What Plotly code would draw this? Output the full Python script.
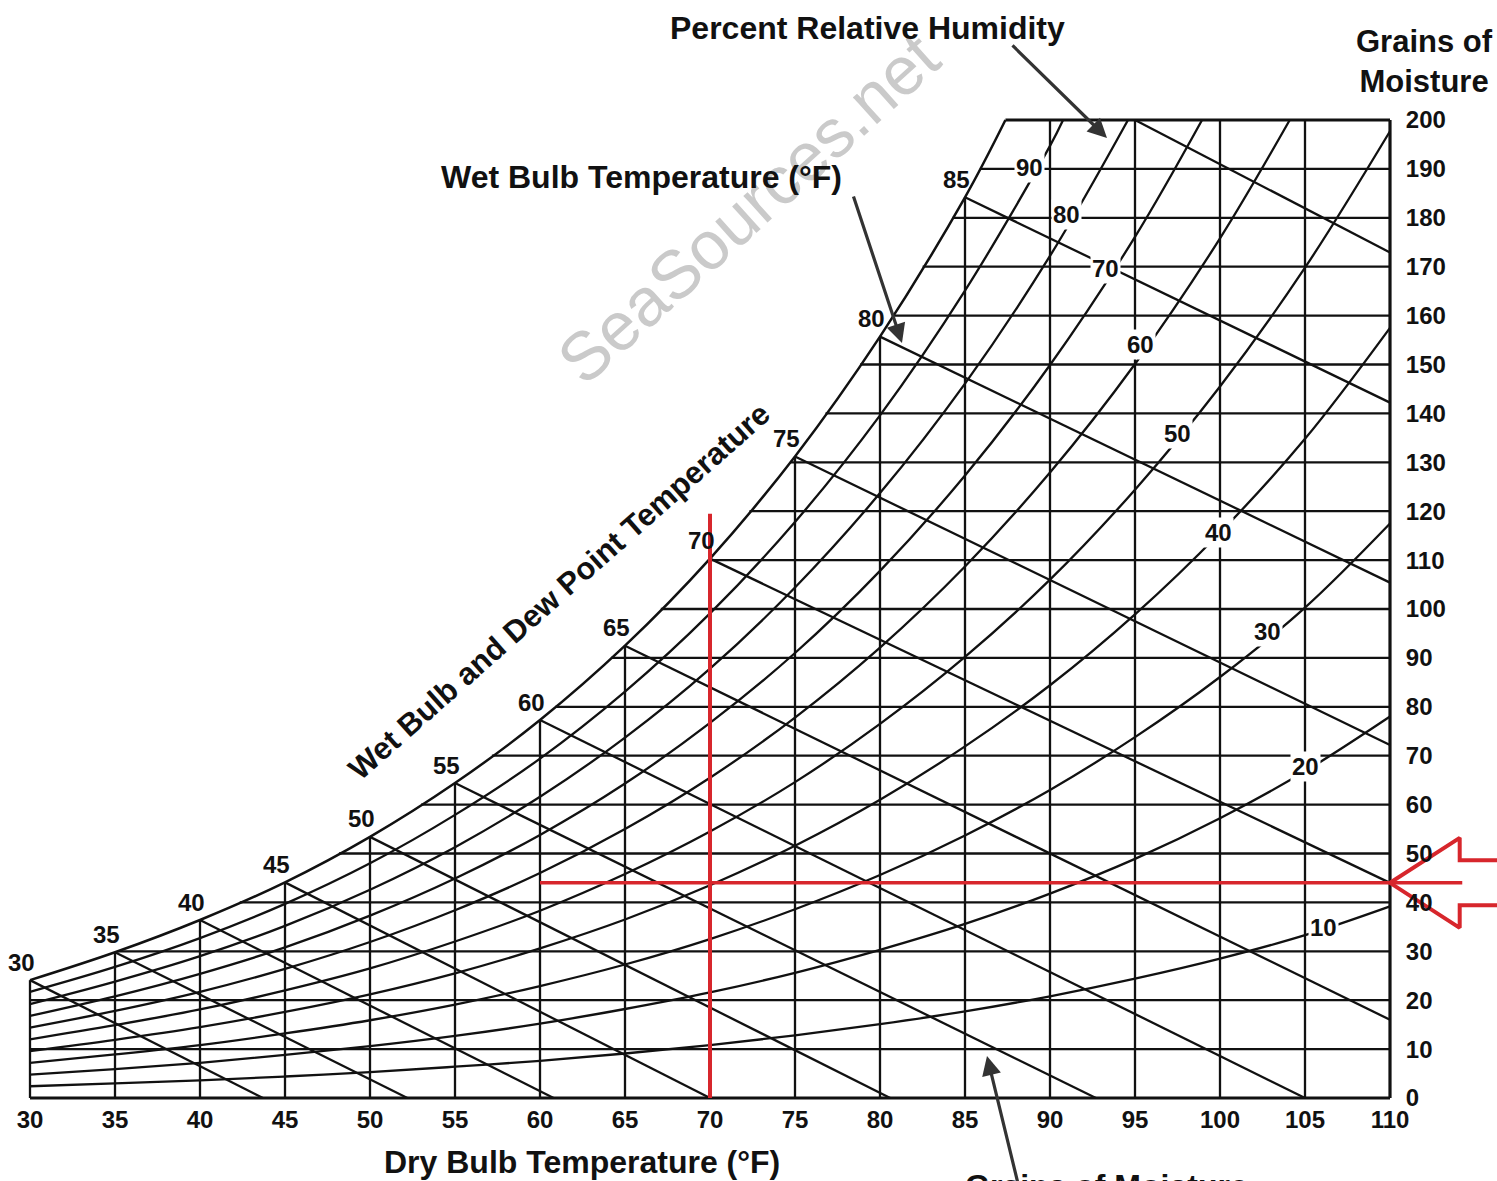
import numpy as np
import plotly.graph_objects as go

# ---------------- data ----------------
db_ticks = list(range(30, 115, 5))          # dry bulb temperature, °F
gr_ticks = list(range(0, 210, 10))          # grains of moisture per lb dry air

# saturation (100 % RH) curve: grains at each dry bulb temperature
sat_db = [30, 35, 40, 45, 50, 55, 60, 65, 70, 75, 80, 85, 90]
sat_gr = [24.1, 29.8, 36.4, 44.1, 53.4, 64.4, 77.3, 92.5, 110.3, 131.2, 155.7, 184.2, 217.4]

# relative humidity curves (grains) at dry bulb 30, 35, ... °F
rh_db = [30, 35, 40, 45, 50, 55, 60, 65, 70, 75, 80, 85, 90, 95, 100, 105, 110]
rh_10 = [2.4, 3.0, 3.6, 4.4, 5.3, 6.4, 7.6, 9.1, 10.8, 12.8, 15.1, 17.7, 20.8, 24.4, 28.5, 33.3, 39.2]
rh_20 = [4.8, 5.9, 7.2, 8.8, 10.6, 12.7, 15.2, 18.2, 21.6, 25.6, 30.3, 35.6, 41.8, 48.9, 57.2, 66.8, 78.0]
rh_30 = [7.2, 8.9, 10.8, 13.2, 15.9, 19.1, 22.9, 27.3, 32.5, 38.6, 45.6, 53.7, 63.0, 73.8, 86.1, 100.3, 117.5]
rh_40 = [9.6, 11.9, 14.5, 17.6, 21.2, 25.5, 30.6, 36.5, 43.5, 51.6, 61.0, 71.9, 84.4, 98.9, 115.6, 134.8, 157.5]
rh_50 = [12.0, 14.9, 18.1, 22.0, 26.5, 32.0, 38.3, 45.8, 54.5, 64.6, 76.5, 90.2, 106.0, 124.4, 145.5, 169.8, 197.7]
rh_60 = [14.4, 17.8, 21.7, 26.4, 31.9, 38.4, 46.0, 55.0, 65.5, 77.8, 92.1, 108.7, 127.9, 150.1, 175.8, 205.3]
rh_70 = [16.8, 20.8, 25.4, 30.8, 37.3, 44.9, 53.8, 64.3, 76.7, 91.0, 107.8, 127.3, 149.9, 176.1, 206.4]
rh_80 = [19.2, 23.8, 29.0, 35.2, 42.6, 51.3, 61.6, 73.7, 87.8, 104.4, 123.7, 146.1, 172.2, 202.5]
rh_90 = [21.7, 26.8, 32.7, 39.7, 48.0, 57.9, 69.4, 83.1, 99.1, 117.8, 139.6, 165.1, 194.7, 229.1]
rh_levels = [10, 20, 30, 40, 50, 60, 70, 80, 90]
rh_series = [rh_10, rh_20, rh_30, rh_40, rh_50, rh_60, rh_70, rh_80, rh_90]

# wet bulb lines: start on the saturation curve, end on the bottom or right edge
wb_db = [30, 35, 40, 45, 50, 55, 60, 65, 70, 75, 80, 85]
wb_end_db = [43.7, 52.2, 60.8, 70.0, 80.6, 92.7, 105.0, 110, 110, 110, 110, 110]
wb_end_gr = [0, 0, 0, 0, 0, 0, 0, 16.0, 44.0, 72.2, 105.4, 142.2]
wb_extra_db = [95, 110]          # line entering from the 200-grain top edge
wb_extra_gr = [200, 172.9]

# label positions of the RH curves (dry bulb, grains)
rh_label_db = [106.1, 105.0, 102.8, 99.9, 97.5, 95.35, 93.25, 90.95, 88.8]
rh_label_gr = [34.8, 67.7, 95.3, 115.7, 135.8, 154.0, 169.7, 180.6, 190.2]

# example reading drawn in red
red_db = 70
red_gr = 44.0
red_v_top = 119.5
red_h_start = 60

# ---------------- styles ----------------
INK = "#111111"
RED = "#d7262c"
ARROWC = "#333333"
FONT = "Liberation Sans, Arial, Helvetica, sans-serif"
W, H = 1497, 1181
PX_PER_DB = 17.0
PX_PER_GR = 4.89
X0 = 30 - 30 / PX_PER_DB
X1 = X0 + W / PX_PER_DB
Y0 = -(H - 1098) / PX_PER_GR
Y1 = Y0 + H / PX_PER_GR
TOP = 200
RIGHT = 110
LW = 2.3


def clip_top(xs, ys, top=TOP):
    ox, oy = [], []
    for i, (x, y) in enumerate(zip(xs, ys)):
        if y <= top:
            ox.append(x)
            oy.append(y)
        else:
            x0, y0 = xs[i - 1], ys[i - 1]
            ox.append(x0 + (top - y0) / (y - y0) * (x - x0))
            oy.append(top)
            break
    return ox, oy


def dew_db(g):
    return float(np.interp(g, sat_gr, sat_db))


fig = go.Figure()


def add_lines(xs, ys, width, color=INK, shape="linear"):
    fig.add_trace(go.Scatter(x=xs, y=ys, mode="lines",
                             line=dict(color=color, width=width, shape=shape),
                             hoverinfo="skip", showlegend=False))


# horizontal grain lines
hx, hy = [], []
for g in gr_ticks:
    if g in (0, TOP):
        continue
    hx += [dew_db(g), RIGHT, None]
    hy += [g, g, None]
add_lines(hx, hy, LW)
add_lines([dew_db(TOP), RIGHT], [TOP, TOP], 2.8)
add_lines([db_ticks[0], RIGHT], [0, 0], 3.2)

# vertical dry bulb lines
vx, vy = [], []
for t in db_ticks:
    if t == RIGHT:
        continue
    top = min(float(np.interp(t, sat_db, sat_gr)), TOP)
    vx += [t, t, None]
    vy += [0, top, None]
add_lines(vx, vy, LW)
add_lines([RIGHT, RIGHT], [0, TOP], 3.2)

# relative humidity curves
for s in rh_series:
    xs, ys = clip_top(rh_db[:len(s)], s)
    add_lines(xs, ys, LW, shape="spline")

# wet bulb lines
wx, wy = [], []
for t, ex, ey in zip(wb_db, wb_end_db, wb_end_gr):
    wx += [t, ex, None]
    wy += [sat_gr[sat_db.index(t)], ey, None]
wx += wb_extra_db + [None]
wy += wb_extra_gr + [None]
add_lines(wx, wy, LW)

# saturation curve
sx, sy = clip_top(sat_db, sat_gr)
add_lines(sx, sy, LW + 0.2, shape="spline")

# red example lines and outlined arrow
add_lines([red_db, red_db], [0, red_v_top], 4, color=RED)
HEAD_LEN = 4.1
HEAD_HALF = 9.2
SHAFT_HALF = 4.6
add_lines([red_h_start, RIGHT + HEAD_LEN + 0.15], [red_gr, red_gr], 3.5, color=RED)
ax_ = [X1 + 1, RIGHT + HEAD_LEN, RIGHT + HEAD_LEN, RIGHT, RIGHT + HEAD_LEN, RIGHT + HEAD_LEN, X1 + 1]
ay_ = [red_gr + SHAFT_HALF, red_gr + SHAFT_HALF, red_gr + HEAD_HALF, red_gr,
       red_gr - HEAD_HALF, red_gr - SHAFT_HALF, red_gr - SHAFT_HALF]
add_lines(ax_, ay_, 4, color=RED)

annotations = []


def title(text, cx, cy, size=32, color=INK, weight="bold", **kw):
    d = dict(x=cx / W, y=1 - cy / H, xref="paper", yref="paper", text=text, showarrow=False,
             xanchor="center", yanchor="middle",
             font=dict(family=FONT, size=size, color=color, weight=weight))
    d.update(kw)
    annotations.append(d)


# watermark
title("SeaSources.net", 748, 208, size=68, color="#cacaca", weight="normal", textangle=-42)

# RH labels (white boxes break the lines)
for lv, lx, ly in zip(rh_levels, rh_label_db, rh_label_gr):
    annotations.append(dict(x=lx, y=ly, xref="x", yref="y", text=str(lv), showarrow=False,
                            xanchor="center", yanchor="middle",
                            bgcolor="white", borderpad=1,
                            font=dict(family=FONT, size=24, color=INK, weight="bold")))

# wet bulb / dew point labels at the saturation curve
for t in wb_db:
    annotations.append(dict(x=t, y=sat_gr[sat_db.index(t)], xref="x", yref="y", text=str(t),
                            showarrow=False, xanchor="center", yanchor="middle",
                            xshift=-9, yshift=18,
                            font=dict(family=FONT, size=24, color=INK, weight="bold")))

title("Percent Relative Humidity", 867, 28)
title("Wet Bulb Temperature (°F)", 641, 177)
title("Grains of<br>Moisture", 1424, 61, size=31)
title("Dry Bulb Temperature (°F)", 582, 1162)
title("Grains of Moisture", 963, 1166, xanchor="left", yanchor="top")
title("Wet Bulb and Dew Point Temperature", 559, 591, size=31, textangle=-41.5)


def pointer(tip, tail):
    annotations.append(dict(x=(tip[0] - 30) / PX_PER_DB + 30, y=(1098 - tip[1]) / PX_PER_GR,
                            ax=(tail[0] - 30) / PX_PER_DB + 30, ay=(1098 - tail[1]) / PX_PER_GR,
                            xref="x", yref="y", axref="x", ayref="y", text="",
                            showarrow=True, arrowhead=2, arrowsize=1.2, arrowwidth=3.2,
                            arrowcolor=ARROWC, standoff=0, startstandoff=0))


pointer((1107, 138), (1011, 44))
pointer((902, 343), (853, 195))
pointer((987, 1056), (1022, 1200))

tickfont = dict(family=FONT, size=24, color=INK, weight="bold")
fig.update_layout(
    width=W, height=H,
    margin=dict(l=0, r=0, t=0, b=0),
    paper_bgcolor="white", plot_bgcolor="white",
    showlegend=False,
    xaxis=dict(range=[X0, X1], domain=[0, 1], anchor="free", position=(H - 1098) / H,
               showgrid=False, zeroline=False, showline=False,
               tickmode="array", tickvals=db_ticks, ticktext=[str(v) for v in db_ticks],
               ticks="outside", ticklen=0, tickcolor="rgba(0,0,0,0)",
               tickfont=tickfont, fixedrange=True),
    yaxis=dict(range=[Y0, Y1], domain=[0, 1], anchor="free", position=1390 / W,
               side="right", showgrid=False, zeroline=False, showline=False,
               tickmode="array", tickvals=gr_ticks, ticktext=[str(v) for v in gr_ticks],
               ticks="outside", ticklen=10, tickcolor="rgba(0,0,0,0)",
               tickfont=tickfont, fixedrange=True),
    annotations=annotations,
)

fig.write_html("out.html", config={"displayModeBar": False},
               post_script="document.body.style.margin='0';document.body.style.overflow='hidden';")
